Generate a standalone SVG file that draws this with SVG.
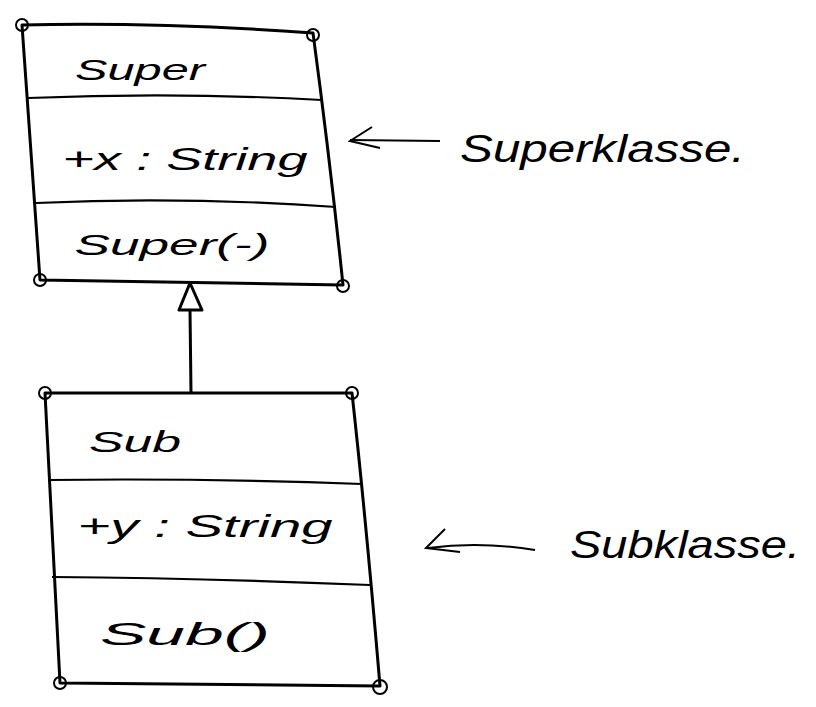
<svg xmlns="http://www.w3.org/2000/svg" width="816" height="707" viewBox="0 0 816 707">
<defs>
<style>
.box{fill:none;stroke:#000;stroke-width:3;stroke-linejoin:round}
.div{fill:none;stroke:#000;stroke-width:2.2}
.corner{fill:none;stroke:#000;stroke-width:2}
.t{font-family:"Liberation Sans",Arial,sans-serif;fill:#000;text-anchor:middle;font-style:italic}
.lbl{font-family:"Liberation Sans",Arial,sans-serif;fill:#000;font-style:italic}
.conn{fill:none;stroke:#000;stroke-width:3}
.head{fill:#fff;stroke:#000;stroke-width:3;stroke-linejoin:round}
.thin{fill:none;stroke:#000;stroke-width:2}
</style>
</defs>
<rect width="816" height="707" fill="#fff"/>
<g id="node-super">
<path class="box" d="M22 25 Q160 22 313 33 Q330 160 343 285 L40 280 Z"/>
<path class="div" d="M28 98 Q180 92 322 100"/>
<path class="div" d="M36 203 Q180 196 336 207"/>
<circle class="corner" cx="22" cy="25" r="6"/>
<circle class="corner" cx="313" cy="35" r="6"/>
<circle class="corner" cx="40" cy="280" r="6"/>
<circle class="corner" cx="343" cy="286" r="6"/>
<text class="t" x="140" y="80" font-size="30" textLength="130" lengthAdjust="spacingAndGlyphs">Super</text>
<text class="t" x="185" y="170" font-size="32" textLength="245" lengthAdjust="spacingAndGlyphs">+x : String</text>
<text class="t" x="172" y="255" font-size="30" textLength="195" lengthAdjust="spacingAndGlyphs">Super(-)</text>
</g>
<g id="node-sub">
<path class="box" d="M45 393 L352 393 Q366 520 380 686 L60 683 Z"/>
<path class="div" d="M48 480 Q200 478 362 484"/>
<path class="div" d="M52 577 Q200 578 370 585"/>
<circle class="corner" cx="45" cy="393" r="6"/>
<circle class="corner" cx="352" cy="393" r="6"/>
<circle class="corner" cx="60" cy="683" r="6"/>
<circle class="corner" cx="380" cy="687" r="7"/>
<text class="t" x="135" y="452" font-size="30" textLength="92" lengthAdjust="spacingAndGlyphs">Sub</text>
<text class="t" x="205" y="537" font-size="32" textLength="255" lengthAdjust="spacingAndGlyphs">+y : String</text>
<text class="t" x="185" y="645" font-size="32" textLength="170" lengthAdjust="spacingAndGlyphs">Sub()</text>
</g>
<g id="note-superklasse">
<text class="lbl" x="460" y="162" font-size="38" textLength="285" lengthAdjust="spacingAndGlyphs">Superklasse.</text>
</g>
<g id="note-subklasse">
<text class="lbl" x="570" y="558" font-size="38" textLength="230" lengthAdjust="spacingAndGlyphs">Subklasse.</text>
</g>
<g id="connectors">
<path class="conn" d="M191 393 L190 310"/>
<path class="head" d="M190 283 L179 310 L202 310 Z"/>
<path class="thin" d="M440 141 L350 140"/>
<path class="thin" d="M372 127 L350 141 L380 148"/>
<path class="thin" d="M535 550 Q480 541 428 548"/>
<path class="thin" d="M445 529 L426 548 L460 552"/>
</g>
</svg>
